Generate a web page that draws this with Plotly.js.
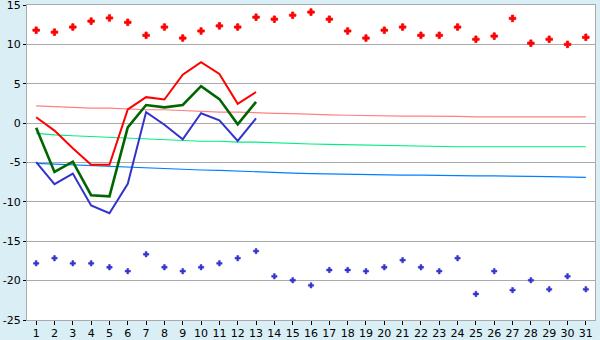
<!DOCTYPE html>
<html><head><meta charset="utf-8">
<script src="https://cdn.plot.ly/plotly-3.0.1.min.js"></script>
<style>html,body{margin:0;padding:0;background:#d9eef5;}#chart{width:600px;height:340px;}</style>
</head><body><div id="chart"></div>
<script>
const days = Array.from({length:31},(_,i)=>i+1);
const recordMax = [11.8,11.55,12.2,12.95,13.35,12.8,11.15,12.2,10.8,11.7,12.35,12.2,13.45,13.2,13.7,14.1,13.2,11.7,10.8,11.8,12.2,11.15,11.15,12.2,10.65,11.05,13.3,10.15,10.65,10.0,10.9];
const recordMin = [-17.8,-17.15,-17.8,-17.8,-18.3,-18.8,-16.65,-18.3,-18.8,-18.3,-17.8,-17.15,-16.25,-19.45,-19.95,-20.6,-18.65,-18.65,-18.8,-18.3,-17.4,-18.3,-18.8,-17.15,-21.7,-18.8,-21.2,-19.95,-21.1,-19.45,-21.1];
const obsDays = [1,2,3,4,5,6,7,8,9,10,11,12,13];
const obsMax = [0.75,-0.95,-3.2,-5.3,-5.3,1.75,3.3,3.0,6.15,7.75,6.25,2.45,3.95];
const obsAvg = [-0.6,-6.2,-4.9,-9.15,-9.3,-0.55,2.3,2.0,2.3,4.7,3.05,-0.15,2.7];
const obsMin = [-4.95,-7.75,-6.4,-10.45,-11.45,-7.7,1.4,-0.2,-2.05,1.25,0.35,-2.25,0.6];
const normMax = [2.2,2.1,2.0,1.9,1.9,1.8,1.7,1.7,1.6,1.5,1.4,1.4,1.3,1.25,1.2,1.1,1.05,1.0,0.95,0.9,0.9,0.9,0.9,0.85,0.8,0.8,0.8,0.8,0.8,0.8,0.8];
const normAvg = [-1.3,-1.5,-1.6,-1.7,-1.8,-1.9,-2.0,-2.1,-2.2,-2.3,-2.3,-2.4,-2.4,-2.5,-2.6,-2.65,-2.7,-2.75,-2.8,-2.85,-2.9,-2.9,-2.95,-3.0,-3.0,-3.0,-3.0,-3.0,-3.0,-3.0,-3.0];
const normMin = [-5.1,-5.2,-5.35,-5.45,-5.5,-5.6,-5.7,-5.8,-5.9,-5.95,-6.0,-6.1,-6.2,-6.3,-6.35,-6.4,-6.45,-6.5,-6.5,-6.55,-6.6,-6.6,-6.65,-6.7,-6.7,-6.7,-6.7,-6.75,-6.8,-6.85,-6.9];
const yTicks = [-25,-20,-15,-10,-5,0,5,10,15];

const traces = [
 {x:days,y:normMax,mode:'lines',line:{color:'#ff8080',width:1.2},hoverinfo:'skip'},
 {x:days,y:normAvg,mode:'lines',line:{color:'#00f080',width:1.2},hoverinfo:'skip'},
 {x:days,y:normMin,mode:'lines',line:{color:'#0080ff',width:1.2},hoverinfo:'skip'},
 {x:obsDays,y:obsMin,mode:'lines',line:{color:'#3333cc',width:2}},
 {x:obsDays,y:obsAvg,mode:'lines',line:{color:'#006600',width:2.6}},
 {x:obsDays,y:obsMax,mode:'lines',line:{color:'#ff0000',width:2}},
 {x:days,y:recordMax,mode:'markers',marker:{symbol:'cross',size:5.5,color:'#ff0000',line:{color:'#ff0000',width:0.8}}},
 {x:days,y:recordMin,mode:'markers',marker:{symbol:'cross',size:4.5,color:'#3333cc',line:{color:'#3333cc',width:0.5}}}
];
const layout = {
 width:600,height:340,showlegend:false,
 paper_bgcolor:'#d9eef5',plot_bgcolor:'#ffffff',
 margin:{l:27,r:5,t:5,b:20},
 font:{family:'DejaVu Sans, sans-serif',size:11,color:'#000'},
 xaxis:{range:[0.5,31.5],tickvals:days,ticktext:days.map(String),ticks:'outside',ticklen:4,tickcolor:'#000',
        showgrid:false,zeroline:false,showline:true,linecolor:'#aaaaaa',mirror:true,fixedrange:true,tickfont:{size:11},ticklabelstandoff:-1},
 yaxis:{range:[-25,15],tickvals:yTicks,ticktext:yTicks.map(String),ticks:'outside',ticklen:3,tickcolor:'#000',ticklabeloverflow:'allow',
        showgrid:true,gridcolor:'#aaaaaa',gridwidth:1,zeroline:false,showline:true,linecolor:'#aaaaaa',mirror:true,fixedrange:true,tickfont:{size:11}}
};
Plotly.newPlot('chart',traces,layout,{staticPlot:true});
</script></body></html>
